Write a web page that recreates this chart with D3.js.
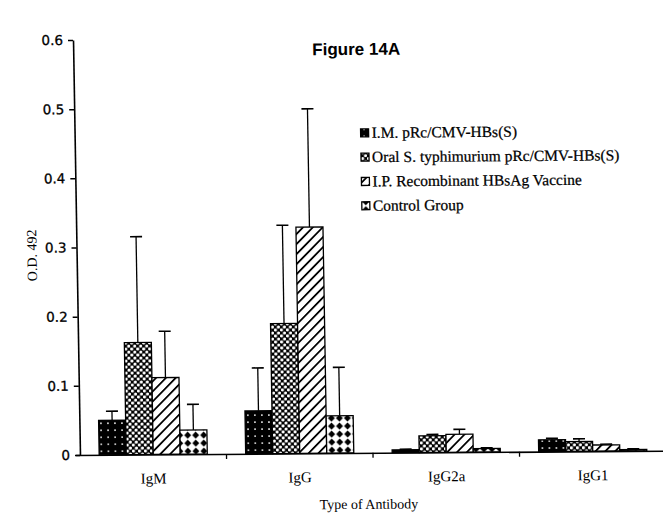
<!DOCTYPE html>
<html><head><meta charset="utf-8">
<script src="https://cdn.jsdelivr.net/npm/d3@7"></script>
<style>body{margin:0;background:#fff}svg{display:block}</style>
</head><body>
<script>
const categories = ["IgM", "IgG", "IgG2a", "IgG1"];
const seriesNames = ["I.M. pRc/CMV-HBs(S)", "Oral S. typhimurium pRc/CMV-HBs(S)", "I.P. Recombinant HBsAg Vaccine", "Control Group"];
const imValues      = [0.050, 0.062, 0.004, 0.017];
const oralValues    = [0.162, 0.188, 0.024, 0.014];
const ipValues      = [0.111, 0.327, 0.026, 0.009];
const controlValues = [0.035, 0.054, 0.005, 0.002];
const imErr      = [0.013, 0.062, 0.001, 0.002];
const oralErr    = [0.153, 0.142, 0.002, 0.004];
const ipErr      = [0.067, 0.171, 0.007, 0.001];
const controlErr = [0.037, 0.070, 0.001, 0.001];
const yTicks = [0, 0.1, 0.2, 0.3, 0.4, 0.5, 0.6];
const yTickLabels = ["0", "0.1", "0.2", "0.3", "0.4", "0.5", "0.6"];

const values = [imValues, oralValues, ipValues, controlValues];
const errs = [imErr, oralErr, ipErr, controlErr];

const W = 663, H = 523;
const svg = d3.select("body").append("svg").attr("width", W).attr("height", H);
const defs = svg.append("defs");

// patterns
let p = defs.append("pattern").attr("id","p0").attr("patternUnits","userSpaceOnUse").attr("width",7).attr("height",7);
p.append("rect").attr("width",7).attr("height",7).attr("fill","#000");
p.append("circle").attr("cx",3.5).attr("cy",3.5).attr("r",0.9).attr("fill","#fff");

p = defs.append("pattern").attr("id","p1").attr("patternUnits","userSpaceOnUse").attr("width",6).attr("height",6);
p.append("rect").attr("width",6).attr("height",6).attr("fill","#000");
p.append("circle").attr("cx",1.5).attr("cy",1.5).attr("r",1.6).attr("fill","#fff");
p.append("circle").attr("cx",4.5).attr("cy",4.5).attr("r",1.6).attr("fill","#fff");

p = defs.append("pattern").attr("id","p2").attr("patternUnits","userSpaceOnUse").attr("width",7).attr("height",7).attr("patternTransform","rotate(45)");
p.append("rect").attr("width",7).attr("height",7).attr("fill","#fff");
p.append("rect").attr("x",0).attr("y",0).attr("width",1.8).attr("height",7).attr("fill","#000");

p = defs.append("pattern").attr("id","p3").attr("patternUnits","userSpaceOnUse").attr("width",8).attr("height",8);
p.append("rect").attr("width",8).attr("height",8).attr("fill","#fff");
p.append("path").attr("d","M4,0.5 L7.5,4 L4,7.5 L0.5,4 Z").attr("fill","#000");

// slight scan skew of the original figure
const a = 0.0168, b = -0.0074;
const root = svg.append("g").attr("transform", `matrix(1,${b},${a},1,${-a * 456},${-b * 80})`);

const x0 = d3.scaleBand().domain(categories).range([80, 666]).paddingInner(0).paddingOuter(0);
const x1 = d3.scaleBand().domain(d3.range(4)).range([0, x0.bandwidth()]).paddingInner(0).paddingOuter(0.71);
const y = d3.scaleLinear().domain([0, 0.6]).range([455, 40]);

// bars
const g = root.append("g");
categories.forEach((c, ci) => {
  values.forEach((vals, si) => {
    const bx = x0(c) + x1(si);
    const bw = x1.bandwidth();
    const v = vals[ci], e = errs[si][ci];
    const cx = bx + bw / 2;
    g.append("line").attr("x1", cx).attr("x2", cx).attr("y1", y(v)).attr("y2", y(v + e))
      .attr("stroke", "#000").attr("stroke-width", 1.3);
    g.append("line").attr("x1", cx - 6).attr("x2", cx + 6).attr("y1", y(v + e)).attr("y2", y(v + e))
      .attr("stroke", "#000").attr("stroke-width", 1.6);
    g.append("rect").attr("x", bx).attr("y", y(v)).attr("width", bw).attr("height", y(0) - y(v))
      .attr("fill", `url(#p${si})`).attr("stroke", "#000").attr("stroke-width", 1.3);
  });
});

// y axis
const yAxis = d3.axisLeft(y).tickValues(yTicks).tickFormat((d, i) => yTickLabels[i]).tickSize(5).tickSizeOuter(0);
const ya = root.append("g").attr("transform", "translate(80,0)").call(yAxis);
ya.select(".domain").attr("stroke-width", 1.6);
ya.selectAll(".tick line").attr("stroke-width", 1.5);
ya.selectAll("text").attr("font-family", "'DejaVu Sans', sans-serif").attr("font-size", 13.5).attr("fill", "#000")
  .attr("stroke", "#000").attr("stroke-width", 0.3).attr("x", -10);

// x axis
const xAxis = d3.axisBottom(x0).tickSize(0).tickFormat("");
const xa = root.append("g").attr("transform", `translate(0,${y(0)})`).call(xAxis);
xa.select(".domain").attr("d", "M76,0.5H666").attr("stroke-width", 1.6);
const bounds = categories.map(c => x0(c)).slice(1);
xa.selectAll(".btick").data(bounds).enter().append("line")
  .attr("x1", d => d).attr("x2", d => d).attr("y1", 0).attr("y2", 5).attr("stroke", "#000").attr("stroke-width", 1.3);
xa.selectAll(".xl").data(categories).enter().append("text")
  .attr("x", d => x0(d) + x0.bandwidth() / 2).attr("y", 29)
  .attr("text-anchor", "middle").attr("fill", "#000").attr("font-family", "'Liberation Serif', serif").attr("font-size", 15).text(d => d);

// axis titles
root.append("text").attr("x", 368).attr("y", 511).attr("text-anchor", "middle").attr("fill", "#000")
  .attr("font-family", "'Liberation Serif', serif").attr("font-size", 14).text("Type of Antibody");
root.append("text").attr("transform", "translate(40,255) rotate(-90)").attr("text-anchor", "middle").attr("fill", "#000")
  .attr("font-family", "'Liberation Serif', serif").attr("font-size", 14).text("O.D. 492");

// title
root.append("text").attr("x", 363).attr("y", 57).attr("text-anchor", "middle").attr("fill", "#000")
  .attr("font-family", "'Liberation Sans', sans-serif").attr("font-weight", "bold").attr("font-size", 17).text("Figure 14A");

// legend
const leg = root.append("g").attr("transform", "translate(366,135)");
seriesNames.forEach((n, i) => {
  const row = leg.append("g").attr("transform", `translate(0,${i * 24.3})`);
  row.append("rect").attr("x", 0).attr("y", -4).attr("width", 8).attr("height", 8)
    .attr("fill", `url(#p${i})`).attr("stroke", "#000").attr("stroke-width", 1.3);
  row.append("text").attr("x", 11).attr("y", 5).attr("fill", "#000").attr("stroke", "#000").attr("stroke-width", 0.25)
    .attr("font-family", "'Liberation Serif', serif").attr("font-size", 15.5).text(n);
});
</script>
</body></html>
